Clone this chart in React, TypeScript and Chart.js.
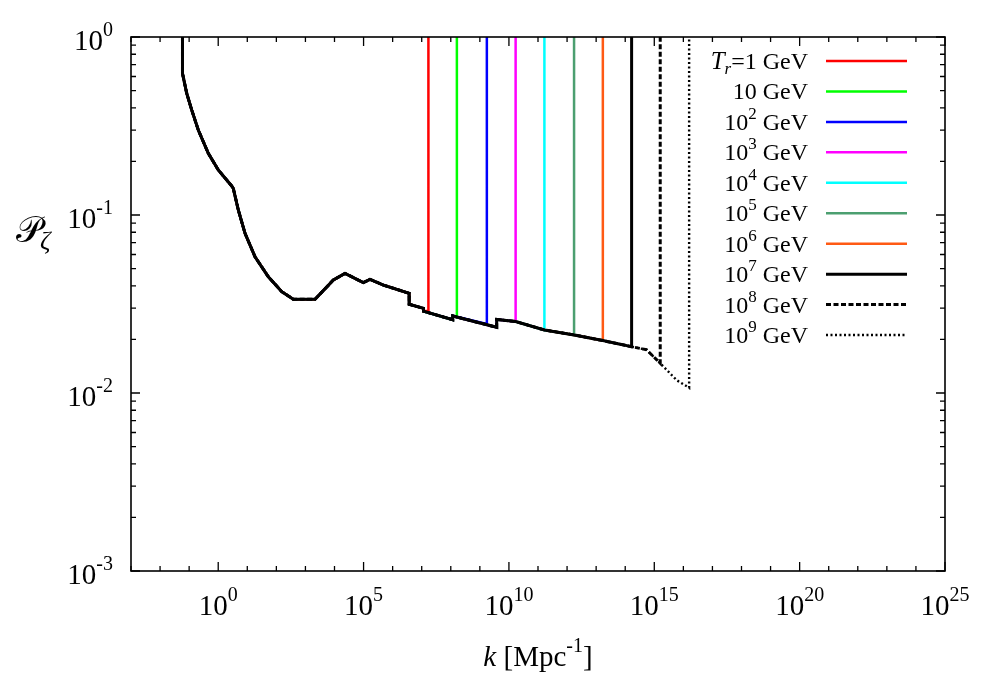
import { useEffect, useRef } from "react"
import { Chart, registerables } from "chart.js"

Chart.register(...registerables)

// envelope of P_zeta(k)
const envK = [
  0.059, 0.059, 0.0824, 0.1225, 0.2065, 0.456, 1.007, 2.91, 3.3, 4.91, 8.35,
  18.4, 52.9, 153, 383, 2140, 9.1e3, 2.3e4, 9.8e4, 1.66e5, 4.8e5, 3.7e6, 3.7e6,
  1.15e7, 1.15e7, 1.17e8, 1.17e8, 3.8e9, 3.8e9, 1.7e10, 1.66e11, 1.74e12,
  1.7e13, 1.66e14, 5.4e14, 1.6e15, 5.9e15, 1.58e16,
]
const envP = [
  1, 0.625, 0.483, 0.389, 0.3, 0.222, 0.179, 0.1455, 0.141, 0.1067, 0.0789,
  0.0583, 0.045, 0.0371, 0.0336, 0.0336, 0.0431, 0.047, 0.0417, 0.0435, 0.0404,
  0.0363, 0.0315, 0.0299, 0.0288, 0.0258, 0.0271, 0.0234, 0.0259, 0.0252,
  0.0226, 0.0212, 0.0197, 0.0182, 0.0175, 0.0147, 0.0118, 0.0107,
]

// one curve per reheating temperature T_r = 10^n GeV
const trExp = [0, 1, 2, 3, 4, 5, 6, 7, 8, 9]
const cutK = [1.7e7, 1.62e8, 1.74e9, 1.7e10, 1.66e11, 1.74e12, 1.7e13, 1.66e14, 1.6e15, 1.58e16]
const cutP = [0.029, 0.0268, 0.0244, 0.0252, 0.0226, 0.0212, 0.0197, 0.0182, 0.0147, 0.0107]
const colors = [
  "#ff0000", "#00ff00", "#0000ff", "#ff00ff", "#00ffff",
  "#4c9f70", "#ff5a14", "#000000", "#000000", "#000000",
]
const dashes = [[], [], [], [], [], [], [], [], [5, 2.5], [2, 2.5]]
const widths = [2.5, 2.5, 2.5, 2.5, 2.5, 2.5, 2.5, 3, 3, 2.4]
const orders = [3, 3, 3, 3, 3, 3, 3, 0, 1, 2]

const xTickExp = [0, 5, 10, 15, 20, 25]
const yTickExp = [-3, -2, -1, 0]

const SERIF = '"Liberation Serif", "DejaVu Serif", serif'

function drawPow(
  ctx: CanvasRenderingContext2D,
  base: string,
  exp: string,
  x: number,
  y: number,
  align: "center" | "right" | "left",
  size: number,
  supSize: number,
  rise: number
) {
  ctx.font = `${size}px ${SERIF}`
  const wb = ctx.measureText(base).width
  ctx.font = `${supSize}px ${SERIF}`
  const we = ctx.measureText(exp).width
  const total = wb + we
  const start = align === "center" ? x - total / 2 : align === "right" ? x - total : x
  ctx.textAlign = "left"
  ctx.font = `${size}px ${SERIF}`
  ctx.fillText(base, start, y)
  ctx.font = `${supSize}px ${SERIF}`
  ctx.fillText(exp, start + wb, y - rise)
}

const gnuplotFrame = {
  id: "gnuplotFrame",
  afterDraw(chart: any) {
    const { ctx, chartArea: a, scales } = chart
    const xs = scales.x
    const ys = scales.y
    ctx.save()
    ctx.strokeStyle = "#000"
    ctx.fillStyle = "#000"
    ctx.lineWidth = 1.6
    ctx.strokeRect(a.left, a.top, a.right - a.left, a.bottom - a.top)

    // x ticks, one per decade, inward on bottom and top
    ctx.lineWidth = 1.3
    for (let e = -3; e <= 25; e++) {
      const px = xs.getPixelForValue(Math.pow(10, e))
      const len = e % 5 === 0 ? 9 : 5
      ctx.beginPath()
      ctx.moveTo(px, a.bottom)
      ctx.lineTo(px, a.bottom - len)
      ctx.moveTo(px, a.top)
      ctx.lineTo(px, a.top + len)
      ctx.stroke()
    }
    // y ticks, log minor ticks, inward on left and right
    for (let e = -3; e <= 0; e++) {
      for (let m = 1; m <= 9; m++) {
        if (e === 0 && m > 1) break
        const py = ys.getPixelForValue(m * Math.pow(10, e))
        const len = m === 1 ? 9 : 5
        ctx.beginPath()
        ctx.moveTo(a.left, py)
        ctx.lineTo(a.left + len, py)
        ctx.moveTo(a.right, py)
        ctx.lineTo(a.right - len, py)
        ctx.stroke()
      }
    }

    // tick labels
    ctx.textBaseline = "alphabetic"
    xTickExp.forEach((e) => {
      const px = xs.getPixelForValue(Math.pow(10, e))
      drawPow(ctx, "10", String(e), px, a.bottom + 44, "center", 29, 20, 14)
    })
    yTickExp.forEach((e) => {
      const py = ys.getPixelForValue(Math.pow(10, e))
      drawPow(ctx, "10", String(e), a.left - 18, py + 13, "right", 29, 20, 14)
    })

    // x title: k [Mpc^-1]
    {
      const cx = (a.left + a.right) / 2
      const by = 666
      ctx.font = `italic 29px ${SERIF}`
      const wk = ctx.measureText("k").width
      ctx.font = `29px ${SERIF}`
      const w1 = ctx.measureText(" [Mpc").width
      ctx.font = `20px ${SERIF}`
      const w2 = ctx.measureText("-1").width
      ctx.font = `29px ${SERIF}`
      const w3 = ctx.measureText("]").width
      let x = cx - (wk + w1 + w2 + w3) / 2
      ctx.textAlign = "left"
      ctx.font = `italic 29px ${SERIF}`
      ctx.fillText("k", x, by)
      x += wk
      ctx.font = `29px ${SERIF}`
      ctx.fillText(" [Mpc", x, by)
      x += w1
      ctx.font = `20px ${SERIF}`
      ctx.fillText("-1", x, by - 14)
      x += w2
      ctx.font = `29px ${SERIF}`
      ctx.fillText("]", x, by)
    }

    // y title: P_zeta
    {
      ctx.textAlign = "left"
      ctx.font = `36px ${SERIF}`
      ctx.fillText("\u{1D4AB}", 16, 242)
      const wp = ctx.measureText("\u{1D4AB}").width
      ctx.font = `italic 26px ${SERIF}`
      ctx.fillText("ζ", 14 + wp, 249)
    }

    // key
    const textRight = 808
    const lineX1 = 826
    const lineX2 = 907
    trExp.forEach((n, i) => {
      const cy = 61 + i * 30.45
      const by = cy + 8
      if (n === 0) {
        ctx.font = `24px ${SERIF}`
        const wRest = ctx.measureText("=1 GeV").width
        ctx.font = `italic 17px ${SERIF}`
        const wr = ctx.measureText("r").width
        ctx.font = `italic 25px ${SERIF}`
        const wT = ctx.measureText("T").width
        let x = textRight - wRest - wr - wT
        ctx.textAlign = "left"
        ctx.fillText("T", x, by)
        x += wT
        ctx.font = `italic 17px ${SERIF}`
        ctx.fillText("r", x, by + 5)
        x += wr
        ctx.font = `24px ${SERIF}`
        ctx.fillText("=1 GeV", x, by)
      } else if (n === 1) {
        ctx.font = `24px ${SERIF}`
        ctx.textAlign = "right"
        ctx.fillText("10 GeV", textRight, by)
      } else {
        ctx.font = `24px ${SERIF}`
        const wg = ctx.measureText(" GeV").width
        ctx.textAlign = "right"
        ctx.fillText(" GeV", textRight, by)
        drawPow(ctx, "10", String(n), textRight - wg, by, "right", 24, 17, 11)
      }
      ctx.strokeStyle = colors[i]
      ctx.lineWidth = widths[i]
      ctx.setLineDash(dashes[i])
      ctx.beginPath()
      ctx.moveTo(lineX1, cy)
      ctx.lineTo(lineX2, cy)
      ctx.stroke()
      ctx.setLineDash([])
    })
    ctx.restore()
  },
}

export default function App() {
  const canvasRef = useRef<HTMLCanvasElement>(null)
  const chartRef = useRef<Chart | null>(null)

  useEffect(() => {
    if (!canvasRef.current) return
    if (chartRef.current) chartRef.current.destroy()
    const ctx = canvasRef.current.getContext("2d")
    if (!ctx) return

    const envelope = envK.map((k, j) => ({ x: k, y: envP[j] }))

    chartRef.current = new Chart(ctx, {
      type: "line",
      data: {
        datasets: trExp.map((n, i) => ({
          label: `T_r = 10^${n} GeV`,
          data: envelope
            .filter((p) => p.x < cutK[i])
            .concat([
              { x: cutK[i], y: cutP[i] },
              { x: cutK[i], y: 1 },
            ]),
          borderColor: colors[i],
          borderWidth: widths[i],
          borderDash: dashes[i],
          pointRadius: 0,
          tension: 0,
          fill: false,
          order: orders[i],
        })),
      },
      options: {
        responsive: false,
        animation: false,
        layout: { padding: { left: 131, right: 55, top: 37, bottom: 129 } },
        plugins: {
          legend: { display: false },
          tooltip: { enabled: false },
        },
        scales: {
          x: { type: "logarithmic", min: 1e-3, max: 1e25, display: false },
          y: { type: "logarithmic", min: 1e-3, max: 1, display: false },
        },
      },
      plugins: [gnuplotFrame],
    })

    return () => {
      if (chartRef.current) {
        chartRef.current.destroy()
        chartRef.current = null
      }
    }
  }, [])

  return (
    <div
      style={{
        position: "absolute",
        left: 0,
        top: 0,
        width: 1000,
        height: 700,
        background: "#fff",
      }}
    >
      <canvas ref={canvasRef} width={1000} height={700}></canvas>
    </div>
  )
}
